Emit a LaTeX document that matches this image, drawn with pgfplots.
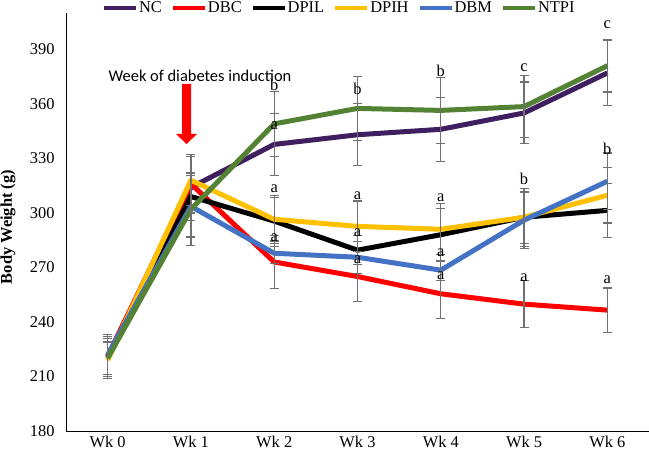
\documentclass[border=0pt]{standalone}
\usepackage{pgfplots}
\usepackage{pgfplotstable}
\pgfplotsset{compat=1.18}
\usepackage{fontspec}
\setmainfont{Liberation Serif}
\newfontfamily\calibri{Carlito}
\definecolor{cNC}{HTML}{3F1F5F}
\definecolor{cDBC}{HTML}{FF0000}
\definecolor{cDPIL}{HTML}{000000}
\definecolor{cDPIH}{HTML}{FFC000}
\definecolor{cDBM}{HTML}{4472C4}
\definecolor{cNTPI}{HTML}{548235}
\definecolor{errgray}{HTML}{707070}
\pgfplotstableread{
x NC NCe DBC DBCe DPIL DPILe DPIH DPIHe DBM DBMe NTPI NTPIe
0 221 12 221 11 220 11 219 10 222 11 220 11
1 314 18 316 16 309 22 318 14 303.6 17 302 20
2 337.7 17 273 14.4 295.5 14 296.5 12 277.8 5.5 349 17.8
3 343 17 265 13.6 279.5 8 292.6 14 275.6 8.8 357.5 17.5
4 346 17.5 255.5 13.5 288 14.5 291 14 268.5 5.5 356.4 18
5 355 17 249.8 13 297.6 14.4 297.6 15.9 296 15.5 358.5 17
6 377 18 246.5 12.2 301.4 14.8 309.7 15.3 317.4 15.6 381 14.5
}\data
\begin{document}
\begin{tikzpicture}
\useasboundingbox (0,0) rectangle (649bp,457bp);
\begin{axis}[
  at={(66bp,26bp)}, anchor=south west,
  scale only axis, width=583bp, height=418bp,
  xmin=-0.5, xmax=6.5, ymin=180, ymax=410,
  xtick={0,...,6},
  xticklabels={Wk 0,Wk 1,Wk 2,Wk 3,Wk 4,Wk 5,Wk 6},
  ytick={180,210,...,390},
  axis x line=bottom, axis y line=left,
  axis line style={-, black, line width=0.9bp},
  major tick length=0pt,
  clip=false,
  no markers,
  /pgf/number format/assume math mode=true,
  tick label style={font=\fontsize{16.5}{19}\selectfont},
  yticklabel style={xshift=-8bp},
  xticklabel style={yshift=-2bp},
  ylabel={\bfseries Body Weight (g)},
  ylabel style={font=\fontsize{16.5}{19}\selectfont, at={(axis description cs:-0.0995,0.488)}, anchor=center, rotate=0},
  legend columns=6,
  legend style={at={(axis description cs:0.468,1.013)}, anchor=center, draw=none, fill=none,
    font=\fontsize{16.5}{19}\selectfont, inner sep=0pt,
    nodes={inner sep=1bp},
    /tikz/every even column/.append style={column sep=8bp}},
  legend image code/.code={\draw[#1, line width=4bp] (0bp,0bp) -- (32bp,0bp);},
  every axis plot/.append style={line width=5bp, line join=round},
  error bars/y dir=both, error bars/y explicit,
  error bars/error mark=-,
  error bars/error bar style={line width=1.2bp, draw=errgray},
  error bars/error mark options={draw=errgray, line width=1.2bp, mark size=4.5bp, rotate=90},
]
\addplot[cNC] table[x=x, y=NC, y error=NCe] {\data};
\addlegendentry{NC}
\addplot[cDBC] table[x=x, y=DBC, y error=DBCe] {\data};
\addlegendentry{DBC}
\addplot[cDPIL] table[x=x, y=DPIL, y error=DPILe] {\data};
\addlegendentry{DPIL}
\addplot[cDPIH] table[x=x, y=DPIH, y error=DPIHe] {\data};
\addlegendentry{DPIH}
\addplot[cDBM] table[x=x, y=DBM, y error=DBMe] {\data};
\addlegendentry{DBM}
\addplot[cNTPI] table[x=x, y=NTPI, y error=NTPIe] {\data};
\addlegendentry{NTPI}
\begin{scope}[every node/.style={font=\fontsize{16.5}{19}\selectfont, inner sep=0pt}]
\node at (axis cs:2,370.6) {b};
\node at (axis cs:2,348) {a};
\node at (axis cs:2,313.5) {a};
\node at (axis cs:2,286.6) {a};
\node at (axis cs:3,368) {b};
\node at (axis cs:3,309.7) {a};
\node at (axis cs:3,289) {a};
\node at (axis cs:3,274.5) {a};
\node at (axis cs:4,378) {b};
\node at (axis cs:4,308.6) {a};
\node at (axis cs:4,278) {a};
\node at (axis cs:4,265.7) {a};
\node at (axis cs:5,380) {c};
\node at (axis cs:5,318.5) {b};
\node at (axis cs:5,264.6) {a};
\node at (axis cs:6,403.6) {c};
\node at (axis cs:6,335.5) {b};
\node at (axis cs:6,263.5) {a};
\end{scope}
\end{axis}
\fill[red] (182bp,373bp) -- (191bp,373bp) -- (191bp,323bp) -- (197bp,323bp) -- (186.5bp,313bp) -- (176bp,323bp) -- (182bp,323bp) -- cycle;
\node[font=\calibri\fontsize{16.5}{19}\selectfont, inner sep=0pt] at (200bp,381bp) {Week of diabetes induction};
\end{tikzpicture}
\end{document}
